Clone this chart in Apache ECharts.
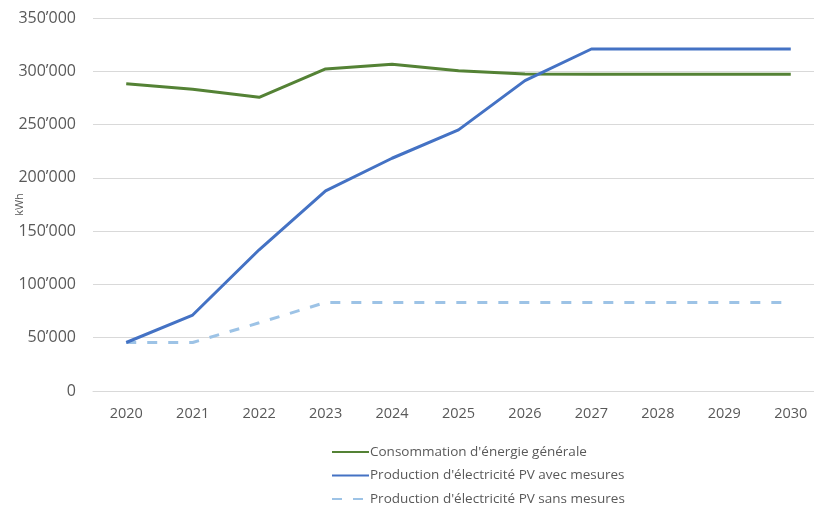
<!DOCTYPE html>
<html><head><meta charset="utf-8">
<script src="https://cdn.jsdelivr.net/npm/echarts@6/dist/echarts.min.js"></script>
<style>html,body{margin:0;padding:0;background:#fff}#c{width:814px;height:511px}</style>
</head><body><div id="c"></div>
<script>
const years = ['2020','2021','2022','2023','2024','2025','2026','2027','2028','2029','2030'];
const consommation = [288400, 283100, 275600, 302200, 306600, 300600, 297500, 297200, 297200, 297200, 297200];
const pvAvec = [45500, 71300, 132500, 187800, 218400, 245000, 291200, 320900, 320900, 320900, 320900];
const pvSans = [45500, 45500, 64000, 83100, 83100, 83100, 83100, 83100, 83100, 83100, 83100];
const names = ["Consommation d'énergie générale", "Production d'électricité PV avec mesures", "Production d'électricité PV sans mesures"];

const font = "'Open Sans', 'Liberation Sans', sans-serif";
const chart = echarts.init(document.getElementById('c'), null, {renderer:'canvas'});
chart.setOption({
  animation:false,
  textStyle:{fontFamily:font},
  grid:{left:93, top:18, height:373, width:731, containLabel:false, outerBoundsMode:'none'},
  legend:{
    orient:'vertical', left:331, top:445, padding:0, itemGap:9.5, itemWidth:37, itemHeight:14,
    itemStyle:{opacity:0},
    textStyle:{fontFamily:font, fontSize:13.5, color:'#595959', padding:[0,0,0,-4]},
    data:names
  },
  xAxis:{
    type:'category', data:years, boundaryGap:true,
    axisLine:{show:true, lineStyle:{color:'#d9d9d9', width:1}},
    axisTick:{show:false},
    axisLabel:{color:'#595959', fontSize:14.5, margin:15, fontFamily:font}
  },
  yAxis:{
    type:'value', min:0, max:350000, interval:50000,
    name:'kWh', nameLocation:'middle', nameGap:78, nameRotate:90, nameMoveOverlap:false,
    nameTextStyle:{color:'#595959', fontSize:11, fontFamily:font, padding:[0,0,-10,0]},
    axisLine:{show:false}, axisTick:{show:false},
    splitLine:{lineStyle:{color:'#d9d9d9', width:1}},
    axisLabel:{color:'#595959', fontSize:16, margin:17, fontFamily:font,
      formatter:function(v){ if(v===0) return '0'; const s=String(v); return s.slice(0,s.length-3)+'\u2019'+s.slice(-3);} }
  },
  series:[
    {name:names[0], type:'line', data:consommation, symbol:'none', lineStyle:{color:'#548235', width:3}, itemStyle:{color:'#548235'}, z:3},
    {name:names[1], type:'line', data:pvAvec, symbol:'none', lineStyle:{color:'#4472C4', width:3}, itemStyle:{color:'#4472C4'}, z:4},
    {name:names[2], type:'line', data:pvSans, symbol:'none', lineStyle:{color:'#9DC3E6', width:3, type:[10,11]}, itemStyle:{color:'#9DC3E6'}, z:2}
  ]
});
</script></body></html>
